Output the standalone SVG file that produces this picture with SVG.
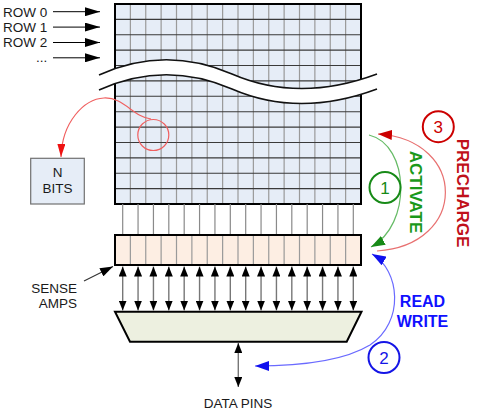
<svg xmlns="http://www.w3.org/2000/svg" width="477" height="415" viewBox="0 0 477 415">
<style>
.lbl{font-family:"Liberation Sans",Arial,sans-serif;font-size:13.5px;fill:#1a1a1a}
.big{font-family:"Liberation Sans",Arial,sans-serif;font-weight:bold;font-size:17px}
.num{font-family:"Liberation Sans",Arial,sans-serif;font-size:17px;text-anchor:middle}
.vgrid{stroke:#9a9a9a;stroke-width:1.2;fill:none}
.hgrid{stroke:#3a3a3a;stroke-width:1.1;fill:none}
.bit{stroke:#8a8a8a;stroke-width:1.2;fill:none}
.box{stroke:#000;stroke-width:2}
</style>
<defs>
<marker id="rowhead" markerUnits="userSpaceOnUse" markerWidth="15" markerHeight="9" refX="15" refY="4.5" orient="auto"><path d="M0,0 L15,4.5 L0,9 z" fill="#000"/></marker>
<marker id="bk" markerUnits="userSpaceOnUse" markerWidth="10" markerHeight="8" refX="10" refY="4" orient="auto-start-reverse"><path d="M0,0 L10,4 L0,8 z" fill="#000"/></marker>
<marker id="bk2" markerUnits="userSpaceOnUse" markerWidth="13" markerHeight="9" refX="13" refY="4.5" orient="auto"><path d="M0,0 L13,4.5 L0,9 z" fill="#000"/></marker>
<marker id="rd" markerUnits="userSpaceOnUse" markerWidth="13" markerHeight="8" refX="13" refY="4" orient="auto"><path d="M0,0 L13,4 L0,8 z" fill="#ee1111"/></marker>
<marker id="gr" markerUnits="userSpaceOnUse" markerWidth="14" markerHeight="10" refX="14" refY="5" orient="auto"><path d="M0,0 L14,5 L0,10 z" fill="#178a17"/></marker>
<marker id="rr" markerUnits="userSpaceOnUse" markerWidth="14" markerHeight="10" refX="14" refY="5" orient="auto"><path d="M0,0 L14,5 L0,10 z" fill="#cc0000"/></marker>
<marker id="bl" markerUnits="userSpaceOnUse" markerWidth="14" markerHeight="10" refX="14" refY="5" orient="auto-start-reverse"><path d="M0,0 L14,5 L0,10 z" fill="#1010ee"/></marker>
</defs>

<g id="row-labels">
<text class="lbl" x="3" y="16.5">ROW 0</text>
<text class="lbl" x="3" y="31.5">ROW 1</text>
<text class="lbl" x="3" y="47">ROW 2</text>
<text class="lbl" x="36" y="62">...</text>
</g>

<g id="memory-array">
<rect x="115" y="4" width="246" height="200" fill="#e6edf7"/>
<path class="vgrid" d="M130.375,4V204M145.75,4V204M161.125,4V204M176.5,4V204M191.875,4V204M207.25,4V204M222.625,4V204M238,4V204M253.375,4V204M268.75,4V204M284.125,4V204M299.5,4V204M314.875,4V204M330.25,4V204M345.625,4V204"/>
<path class="hgrid" d="M115,19.385H361M115,34.77H361M115,50.15H361M115,65.54H361M115,80.92H361M115,96.31H361M115,111.69H361M115,127.08H361M115,142.46H361M115,157.85H361M115,173.23H361M115,188.62H361"/>
<rect x="115" y="4" width="246" height="200" fill="none" class="box"/>
<path d="M99,75 Q165,45 232,74 T377,74 L377,89 Q299,118 232,89 Q165,60 99,90 Z" fill="#fff"/>
<path d="M99,75 Q165,45 232,74 T377,74" fill="none" stroke="#111" stroke-width="1.6"/>
<path d="M99,90 Q165,60 232,89 T377,89" fill="none" stroke="#111" stroke-width="1.6"/>
<circle cx="153.3" cy="135" r="15.5" fill="none" stroke="#f06060" stroke-width="1.2"/>
</g>

<g id="bitlines">
<path class="bit" d="M122.69,204V235M138.06,204V235M153.44,204V235M168.81,204V235M184.19,204V235M199.56,204V235M214.94,204V235M230.31,204V235M245.69,204V235M261.06,204V235M276.44,204V235M291.81,204V235M307.19,204V235M322.56,204V235M337.94,204V235M353.31,204V235"/>
</g>

<g id="n-bits">
<rect x="30.7" y="158.3" width="53.6" height="45.7" fill="#e6edf7" stroke="#707070" stroke-width="1.2"/>
<text class="lbl" x="57.5" y="177" text-anchor="middle">N</text>
<text class="lbl" x="57.5" y="193.3" text-anchor="middle">BITS</text>
</g>

<g id="sense-amps">
<rect x="115" y="235" width="246" height="30" fill="#fdeee3"/>
<path class="vgrid" d="M130.375,235V265M145.75,235V265M161.125,235V265M176.5,235V265M191.875,235V265M207.25,235V265M222.625,235V265M238,235V265M253.375,235V265M268.75,235V265M284.125,235V265M299.5,235V265M314.875,235V265M330.25,235V265M345.625,235V265"/>
<rect x="115" y="235" width="246" height="30" fill="none" class="box"/>
<text class="lbl" x="77" y="292.7" text-anchor="end">SENSE</text>
<text class="lbl" x="77" y="308.3" text-anchor="end">AMPS</text>
</g>

<g id="mux">
<polygon points="115,311.7 361.5,311.7 346.7,341.7 130,341.7" fill="#edf0e0" class="box"/>
</g>

<g id="data-pins">
<text class="lbl" x="238" y="408" text-anchor="middle">DATA PINS</text>
</g>

<g id="connectors">
<g stroke="#000" stroke-width="1">
<line x1="53" y1="11.7" x2="100" y2="11.7" marker-end="url(#rowhead)"/>
<line x1="53" y1="27.1" x2="100" y2="27.1" marker-end="url(#rowhead)"/>
<line x1="53" y1="42.5" x2="100" y2="42.5" marker-end="url(#rowhead)"/>
<line x1="53" y1="57.8" x2="100" y2="57.8" marker-end="url(#rowhead)"/>
</g>
<g stroke="#777" stroke-width="1.4" marker-start="url(#bk)" marker-end="url(#bk)">
<line x1="122.69" y1="266.5" x2="122.69" y2="310.5"/>
<line x1="138.06" y1="266.5" x2="138.06" y2="310.5"/>
<line x1="153.44" y1="266.5" x2="153.44" y2="310.5"/>
<line x1="168.81" y1="266.5" x2="168.81" y2="310.5"/>
<line x1="184.19" y1="266.5" x2="184.19" y2="310.5"/>
<line x1="199.56" y1="266.5" x2="199.56" y2="310.5"/>
<line x1="214.94" y1="266.5" x2="214.94" y2="310.5"/>
<line x1="230.31" y1="266.5" x2="230.31" y2="310.5"/>
<line x1="245.69" y1="266.5" x2="245.69" y2="310.5"/>
<line x1="261.06" y1="266.5" x2="261.06" y2="310.5"/>
<line x1="276.44" y1="266.5" x2="276.44" y2="310.5"/>
<line x1="291.81" y1="266.5" x2="291.81" y2="310.5"/>
<line x1="307.19" y1="266.5" x2="307.19" y2="310.5"/>
<line x1="322.56" y1="266.5" x2="322.56" y2="310.5"/>
<line x1="337.94" y1="266.5" x2="337.94" y2="310.5"/>
<line x1="353.31" y1="266.5" x2="353.31" y2="310.5"/>
<line x1="238.3" y1="343" x2="238.3" y2="387"/>
</g>
<line x1="84" y1="281" x2="113" y2="266.5" stroke="#333" stroke-width="1.2" marker-end="url(#bk2)"/>
<path d="M151,119 C133,117 124,97 104,98 C84,99 62,122 61,157" fill="none" stroke="#f06060" stroke-width="1.2" marker-end="url(#rd)"/>
<path d="M369,135 C410,145 412,225 371,247" fill="none" stroke="#66bb66" stroke-width="1.2" marker-end="url(#gr)"/>
<path d="M377,251 C468,245 468,140 378,134" fill="none" stroke="#e87070" stroke-width="1.2" marker-end="url(#rr)"/>
<path d="M372,254 C400,270 405,322 370,345 C342,362 292,366 255,366" fill="none" stroke="#6a6aff" stroke-width="1.2" marker-start="url(#bl)" marker-end="url(#bl)"/>
</g>

<g id="step-1">
<circle cx="385" cy="187.5" r="15.5" fill="none" stroke="#178a17" stroke-width="2"/>
<text class="num" x="385" y="193.5" fill="#178a17">1</text>
<text class="big" transform="translate(410,192) rotate(90)" text-anchor="middle" fill="#1a991a">ACTIVATE</text>
</g>
<g id="step-3">
<circle cx="438.3" cy="126.7" r="15.5" fill="none" stroke="#cc0000" stroke-width="2"/>
<text class="num" x="438.3" y="132.7" fill="#cc0000">3</text>
<text class="big" transform="translate(457,193) rotate(90)" text-anchor="middle" fill="#c0101a">PRECHARGE</text>
</g>
<g id="step-2">
<circle cx="384" cy="357.5" r="15.5" fill="none" stroke="#1515e6" stroke-width="2"/>
<text class="num" x="384" y="363.5" fill="#1515e6">2</text>
<text class="big" x="422.5" y="306.7" text-anchor="middle" fill="#1010ff" style="font-size:16px">READ</text>
<text class="big" x="422.5" y="326.7" text-anchor="middle" fill="#1010ff" style="font-size:16px">WRITE</text>
</g>
</svg>
